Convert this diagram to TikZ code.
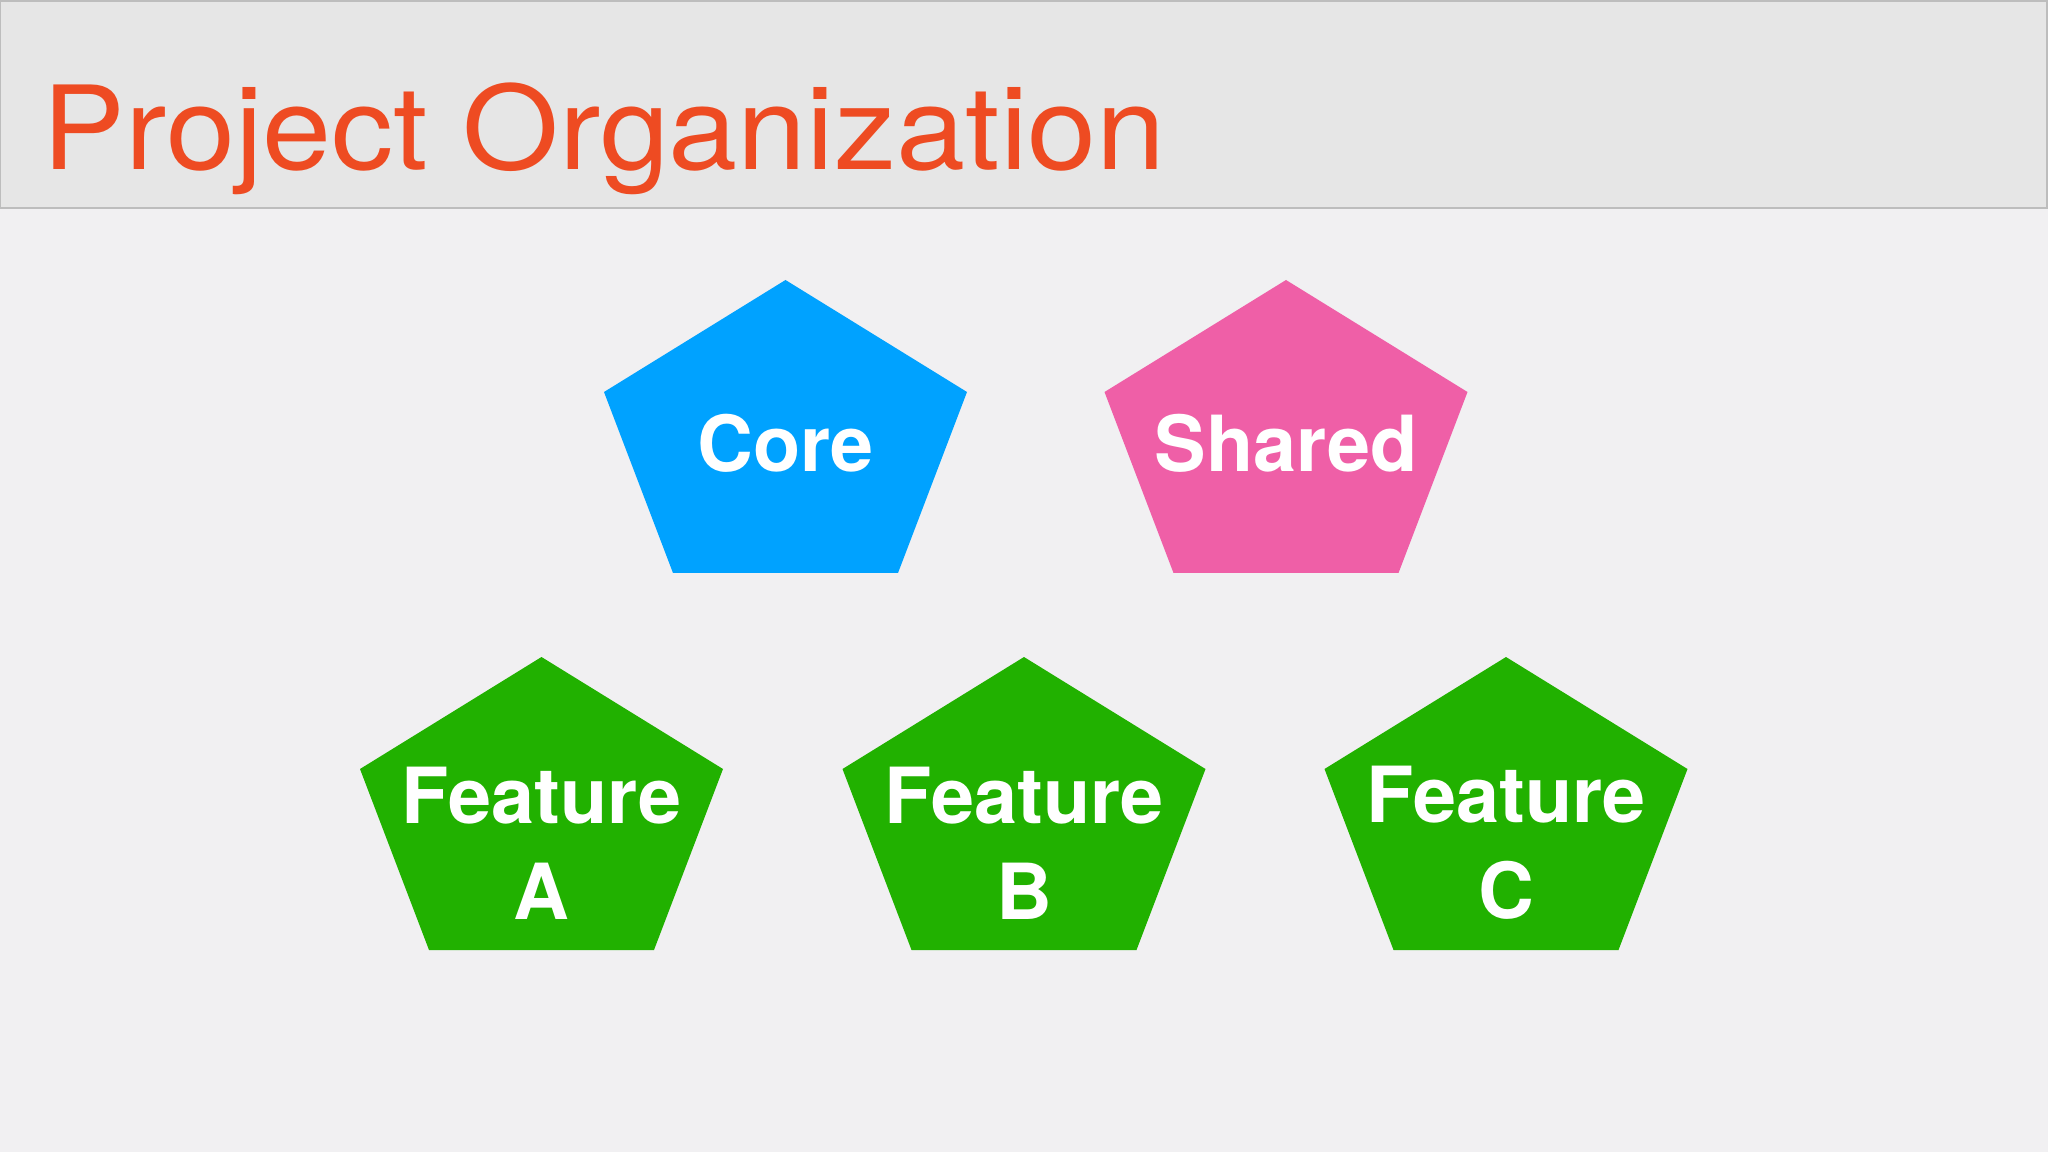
\documentclass[tikz,border=0pt]{standalone}
\usepackage{fontspec}
\setmainfont{TeX Gyre Heros}
\newfontfamily\titlefont[FakeStretch=1.07]{TeX Gyre Heros}
\definecolor{pagebg}{HTML}{F1F0F2}
\definecolor{headbg}{HTML}{E6E6E6}
\definecolor{headline}{HTML}{BDBDBD}
\definecolor{titlered}{HTML}{EE4B22}
\definecolor{coreblue}{HTML}{00A2FF}
\definecolor{sharedpink}{HTML}{EF5FA7}
\definecolor{featuregreen}{HTML}{21B100}
\tikzset{
  partlabel/.style={text=white, inner sep=0pt, align=center,
    font=\fontsize{22}{27.2}\selectfont\bfseries},
}
\begin{document}
\begin{tikzpicture}[x=0.01cm, y=-0.01cm]
        \useasboundingbox (0,0) rectangle (2048,1152);
        % background and header bar
        \fill[pagebg] (0,0) rectangle (2048,1152);
        \filldraw[fill=headbg, draw=headline, line width=0.6pt] (0,1) rectangle (2047,208);
        \node[anchor=base west, inner sep=0pt, text=titlered,
              font=\titlefont\fontsize{33}{40}\selectfont] (title) at (42,170) {Project Organization};
        % top corners of the pentagons
        \coordinate (coretop)     at ( 785.5, 280);
        \coordinate (sharedtop)   at (1286,   280);
        \coordinate (featureatop) at ( 541.5, 657);
        \coordinate (featurebtop) at (1024,   657);
        \coordinate (featurectop) at (1506,   657);
        % drawing the pentagons
        \fill[coreblue]     (coretop)     -- ++(-181.5,112) -- ++(69,181) -- ++(225,0) -- ++(69,-181) -- cycle;
        \fill[sharedpink]   (sharedtop)   -- ++(-181.5,112) -- ++(69,181) -- ++(225,0) -- ++(69,-181) -- cycle;
        \fill[featuregreen] (featureatop) -- ++(-181.5,112) -- ++(69,181) -- ++(225,0) -- ++(69,-181) -- cycle;
        \fill[featuregreen] (featurebtop) -- ++(-181.5,112) -- ++(69,181) -- ++(225,0) -- ++(69,-181) -- cycle;
        \fill[featuregreen] (featurectop) -- ++(-181.5,112) -- ++(69,181) -- ++(225,0) -- ++(69,-181) -- cycle;
        % labels of the pentagons
        \node[partlabel] (core)     at ( 785.5, 443) {Core};
        \node[partlabel] (shared)   at (1286,   443) {Shared};
        \node[partlabel] (featurea) at ( 541.5, 843) {Feature\\A};
        \node[partlabel] (featureb) at (1024,   843) {Feature\\B};
        \node[partlabel] (featurec) at (1506,   843) {Feature\\C};
\end{tikzpicture}
\end{document}
